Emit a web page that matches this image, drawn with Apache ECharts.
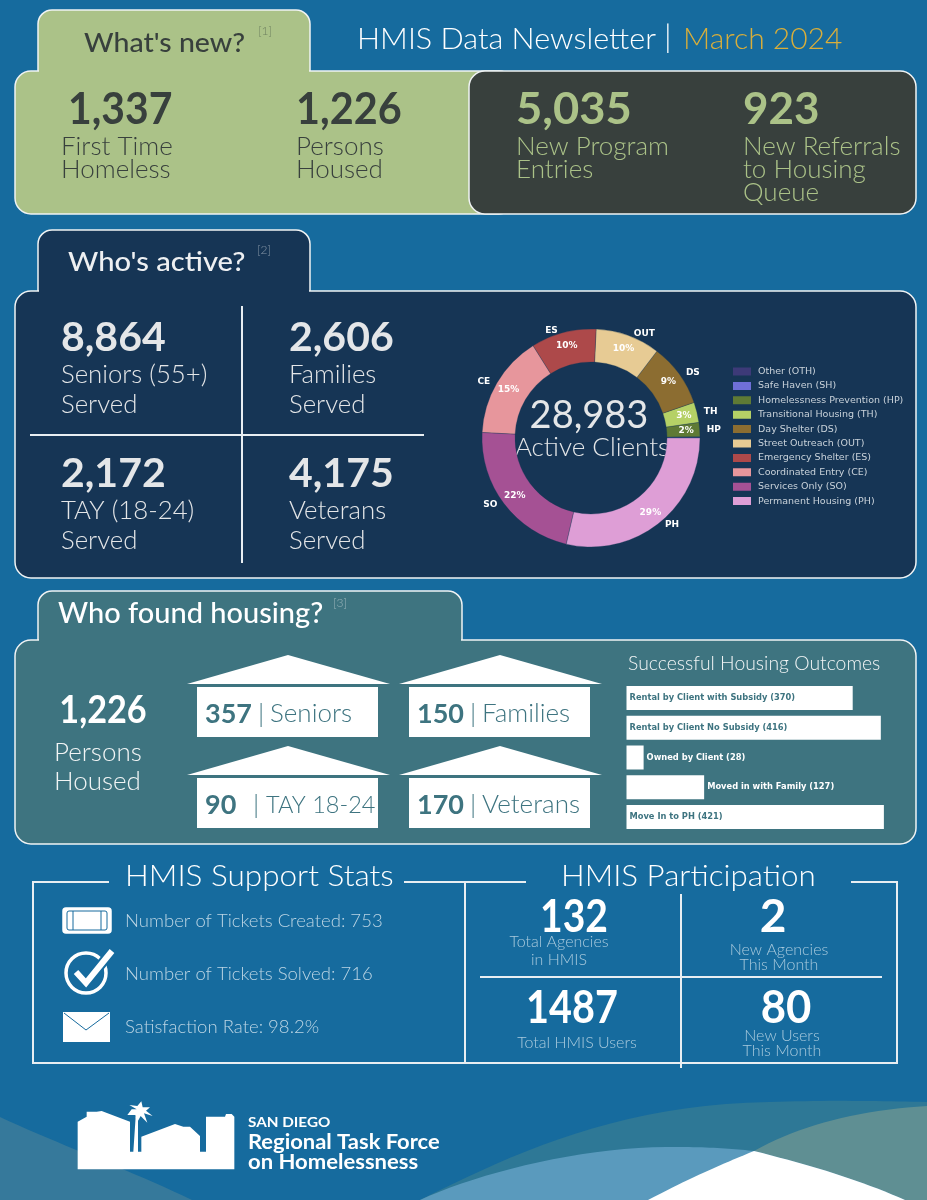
<!DOCTYPE html>
<html>
<head>
<meta charset="utf-8">
<title>HMIS Data Newsletter | March 2024</title>
<script src="https://cdn.jsdelivr.net/npm/echarts@6/dist/echarts.min.js"></script>
<style>
  html, body { margin: 0; padding: 0; background: #166b9e; }
  #chart { width: 927px; height: 1200px; }
</style>
</head>
<body>
<div id="chart"></div>
<script>
// program mix (share of active clients)
const programNames = ["Other (OTH)", "Safe Haven (SH)", "Homelessness Prevention (HP)", "Transitional Housing (TH)", "Day Shelter (DS)", "Street Outreach (OUT)", "Emergency Shelter (ES)", "Coordinated Entry (CE)", "Services Only (SO)", "Permanent Housing (PH)"];
const programCodes = ["", "", "HP", "TH", "DS", "OUT", "ES", "CE", "SO", "PH"];
const programShares = [0.1, 0.1, 2.1, 3.0, 9.4, 9.6, 9.7, 15.3, 22.2, 28.7];
const programColors = ["#3d3a78", "#6f6fd8", "#5f7a35", "#b5d166", "#8c6d31", "#e7cb94", "#ad494a", "#e7969c", "#a55194", "#de9ed6"];

// housing outcomes bars
const outcomeNames = ["Rental by Client with Subsidy", "Rental by Client No Subsidy", "Owned by Client", "Moved in with Family", "Move In to PH"];
const outcomeValues = [370, 416, 28, 127, 421];

// headline numbers
const newValues = ["1,337", "1,226", "5,035", "923"];
const newLabels = [["First Time", "Homeless"], ["Persons", "Housed"], ["New Program", "Entries"], ["New Referrals", "to Housing", "Queue"]];
const activeValues = ["8,864", "2,606", "2,172", "4,175"];
const activeLabels = [["Seniors (55+)", "Served"], ["Families", "Served"], ["TAY (18-24)", "Served"], ["Veterans", "Served"]];
const housedValues = ["357", "150", "90", "170"];
const housedLabels = ["Seniors", "Families", "TAY 18-24", "Veterans"];
const supportLines = ["Number of Tickets Created: 753", "Number of Tickets Solved: 716", "Satisfaction Rate: 98.2%"];
const partValues = ["132", "2", "1487", "80"];
const partLabels = [["Total Agencies", "in HMIS"], ["New Agencies", "This Month"], ["Total HMIS Users"], ["New Users", "This Month"]];

const BG = "#166b9e", GREEN = "#abc288", SLATE = "#38403d", NAVY = "#163555", TEAL = "#3e7480";
const FONT = "Lato", LINE = "#e8eef2";

const g = [];
// sx squeezes or stretches the glyphs, Lato runs a bit off the original's widths
function txt(x, y, text, size, fill, weight, align, sx) {
  g.push({ type: "text", x, y: y + 1, scaleX: sx || 1, style: { text, fill, font: `${weight || 300} ${size}px ${FONT}`, textAlign: align || "left", textVerticalAlign: "middle" } });
}
function poly(points, fill) { g.push({ type: "polygon", shape: { points }, style: { fill } }); }
function seg(x1, y1, x2, y2, stroke, lineWidth) {
  g.push({ type: "line", shape: { x1, y1, x2, y2 }, style: { stroke: stroke || LINE, lineWidth: lineWidth || 2 } });
}
function box(x, y, w, h, r, fill, stroke) {
  g.push({ type: "rect", shape: { x, y, width: w, height: h, r }, style: { fill, stroke: stroke || "#f0f3f4", lineWidth: 1.5 } });
}
// decorative wave: start point, then cubic segments [c1x,c1y,c2x,c2y,x,y], flattened to a polygon
function wave(start, curves, fill) {
  const pts = [start];
  let p = start;
  curves.forEach((c) => {
    for (let t = 0.05; t <= 1.001; t += 0.05) {
      const u = 1 - t;
      pts.push([
        u * u * u * p[0] + 3 * u * u * t * c[0] + 3 * u * t * t * c[2] + t * t * t * c[4],
        u * u * u * p[1] + 3 * u * u * t * c[1] + 3 * u * t * t * c[3] + t * t * t * c[5],
      ]);
    }
    p = [c[4], c[5]];
  });
  return poly(pts, fill);
}

// bottom waves
wave([0, 1117], [[60, 1145, 130, 1170, 192, 1200], [130, 1200, 60, 1200, 0, 1200]], "#36799b");
wave([420, 1200], [[520, 1150, 620, 1105, 769, 1102], [830, 1100, 880, 1101, 927, 1102], [927, 1130, 927, 1170, 927, 1200]], "#2e7896");
wave([648, 1200], [[690, 1178, 720, 1165, 754, 1151], [800, 1125, 860, 1110, 927, 1106], [927, 1130, 927, 1170, 927, 1200]], "#5f8f93");
wave([420, 1200], [[480, 1172, 590, 1145, 680, 1147], [710, 1147, 735, 1149, 754, 1151], [810, 1165, 860, 1180, 905, 1200]], "#5a9abd");
wave([648, 1200], [[690, 1178, 720, 1165, 754, 1151], [810, 1165, 860, 1180, 905, 1200]], "#ffffff");

// what's new
box(38, 10, 272, 70, [14, 14, 0, 0], GREEN);
box(15, 71, 500, 143, 16, GREEN);
g.push({ type: "rect", shape: { x: 39, y: 65, width: 270, height: 10 }, style: { fill: GREEN } });
box(469, 71, 447, 143, 16, SLATE);
txt(84, 42, "What's new?", 27, SLATE, 500, "left", 1.055);
txt(258, 30, "[1]", 12, "#6f8260", 300);
txt(357, 38, "HMIS Data Newsletter", 30, "#ffffff", 300, "left", 1.02);
txt(664, 36, "|", 32, "#ffffff");
txt(683, 38, "March 2024", 30, "#d9ae3a");
const newSquash = [0.93, 0.94, 1.03, 1];
[68, 296, 516, 743].forEach((x, i) => {
  const col = i < 2 ? SLATE : GREEN;
  txt(x, 109, newValues[i], 44, col, 700, "left", newSquash[i]);
  newLabels[i].forEach((t, j) => txt(x - (i == 0 ? 7 : 0), 146 + j * 23, t, 25, col, 300, "left", 1.04));
});

// who's active
box(38, 230, 272, 70, [14, 14, 0, 0], NAVY);
box(15, 291, 901, 287, 16, NAVY);
g.push({ type: "rect", shape: { x: 39, y: 285, width: 270, height: 10 }, style: { fill: NAVY } });
txt(68, 261, "Who's active?", 27, "#eef0f2", 500, "left", 1.08);
txt(257, 249, "[2]", 12, "#8797a8", 300);
seg(242, 306, 242, 563);
seg(30, 435, 424, 435);
[[61, 337], [289, 337], [61, 473], [289, 473]].forEach(([x, y], i) => {
  txt(x, y, activeValues[i], 41, "#e4e6e8", 700);
  activeLabels[i].forEach((t, j) => txt(x, y + 37 + j * 30, t, 25, "#e4e6e8", 300, "left", 1.03));
});
txt(589, 415, "28,983", 38, "#e4e6e8", 400, "center");
txt(592, 447, "Active Clients", 26, "#e4e6e8", 300, "center");

// who found housing
box(38, 591, 424, 60, [14, 14, 0, 0], TEAL);
box(15, 640, 901, 204, 16, TEAL);
g.push({ type: "rect", shape: { x: 39, y: 635, width: 422, height: 10 }, style: { fill: TEAL } });
txt(58, 613, "Who found housing?", 28, "#ffffff", 500, "left", 1.035);
txt(333, 602, "[3]", 12, "#9db6bc", 300);
txt(103, 710, "1,226", 38, "#ffffff", 700, "center", 0.9);
txt(54, 752, "Persons", 25, "#f2f5f5", 300, "left", 1.04);
txt(54, 781, "Housed", 25, "#f2f5f5", 300, "left", 1.04);
[[187, 655], [399, 655], [187, 746], [399, 746]].forEach(([x, y], i) => {
  poly([[x + 101, y], [x + 203, y + 29], [x, y + 29]], "#ffffff");
  g.push({ type: "rect", shape: { x: x + 10, y: y + 32, width: 181, height: 50 }, style: { fill: "#ffffff" } });
  txt(x + 18, y + 58, housedValues[i], 27, TEAL, 700);
  txt(x + (i == 2 ? 66 : 71), y + 58, "|", 26, TEAL);
  txt(x + (i == 2 ? 79 : 83), y + 58, housedLabels[i], i == 2 ? 23.5 : 26, TEAL);
});
txt(628, 663, "Successful Housing Outcomes", 19, "#f2f5f5", 300, "left", 1.02);

// support stats and participation frame
seg(33, 882, 109, 882); seg(404, 882, 526, 882); seg(851, 882, 897, 882);
seg(33, 881, 33, 1064); seg(897, 881, 897, 1064); seg(32, 1063, 898, 1063);
seg(465, 882, 465, 1063); seg(681, 894, 681, 1068); seg(480, 977, 882, 977);
txt(125, 875, "HMIS Support Stats", 30, "#ffffff", 300, "left", 1.05);
txt(561, 875, "HMIS Participation", 30, "#ffffff", 300, "left", 1.045);
[920, 973, 1026].forEach((y, i) => txt(125, y, supportLines[i], 18, "#bcd5e4", 300, "left", 1.03));
const partSquash = [0.85, 1, 0.86, 0.95];
[[574, 916], [773, 916], [572, 1007], [786, 1007]].forEach(([x, y], i) => txt(x, y, partValues[i], 46, "#ffffff", 700, "center", partSquash[i]));
[[559, 941, 18], [779, 949, 15], [577, 1042], [782, 1035, 15]].forEach(([x, y, gap], i) => {
  partLabels[i].forEach((t, j) => txt(x, y + j * (gap || 0), t, 16, "#a9cadd", 300, "center"));
});

// ticket icon
box(63, 908, 48, 25, 3, "#ffffff", "#ffffff");
g.push({ type: "rect", shape: { x: 67, y: 911, width: 40, height: 19, r: 2 }, style: { fill: "none", stroke: BG, lineWidth: 1 } });
seg(73, 911, 73, 930, BG, 1); seg(101, 911, 101, 930, BG, 1);
// check icon
g.push({ type: "circle", shape: { cx: 86, cy: 973, r: 20 }, style: { fill: "none", stroke: "#ffffff", lineWidth: 3.5 } });
g.push({ type: "polyline", shape: { points: [[76, 972], [86, 983], [112, 951]] }, style: { stroke: BG, lineWidth: 10, fill: "none" } });
g.push({ type: "polyline", shape: { points: [[76, 972], [86, 983], [112, 951]] }, style: { stroke: "#ffffff", lineWidth: 6, fill: "none" } });
// envelope icon
g.push({ type: "rect", shape: { x: 63, y: 1012, width: 47, height: 30 }, style: { fill: "#ffffff" } });
g.push({ type: "polyline", shape: { points: [[64, 1013], [86, 1030], [109, 1013]] }, style: { stroke: BG, lineWidth: 1, fill: "none" } });

// logo, traced in zoom crop coordinates
const lz = (p) => p.map(([x, y]) => [20 + x / 3, 860 + y / 3]);
poly(lz([[173, 785], [200, 770], [200, 755], [230, 755], [245, 753], [330, 785], [330, 875], [340, 875], [347, 770], [354, 770], [354, 875], [364, 875], [364, 830], [465, 792], [490, 800], [510, 800], [540, 828], [540, 875], [558, 875], [558, 770], [615, 770], [618, 762], [635, 762], [643, 770], [643, 928], [173, 928]]), "#ffffff");
poly(lz([[322, 765], [335, 748], [350, 748], [328, 735], [352, 738], [364, 724], [368, 742], [390, 742], [378, 752], [398, 768], [372, 760], [382, 788], [362, 768], [350, 790], [346, 765]]), "#ffffff");
txt(248, 1121, "SAN DIEGO", 14, "#ffffff", 700, "left", 1.09);
txt(248, 1141, "Regional Task Force", 20.5, "#ffffff", 700, "left", 1.07);
txt(248, 1161, "on Homelessness", 20.5, "#ffffff", 700, "left", 1.075);

const pieData = programNames.map((name, i) => ({ name, value: programShares[i], itemStyle: { color: programColors[i] } }));
const chart = echarts.init(document.getElementById("chart"), null, { renderer: "canvas" });
chart.setOption({
  animation: false,
  backgroundColor: BG,
  graphic: { elements: g },
  legend: {
    orient: "vertical", left: 726, top: 360.5, itemWidth: 20, itemHeight: 10, itemGap: 2.4,
    icon: "rect", selectedMode: false, data: programNames,
    textStyle: { color: "#c9d2da", fontSize: 9.5, fontFamily: "DejaVu Sans", padding: [0, 0, 0, 1] },
  },
  grid: { left: 626.5, top: 683, width: 269, height: 149 },
  xAxis: { type: "value", min: 0, max: 440, show: false },
  yAxis: { type: "category", inverse: true, data: outcomeNames, show: false },
  series: [
    {
      type: "pie", center: [591, 438], radius: [76, 109], startAngle: 0, clockwise: false,
      avoidLabelOverlap: false, silent: true, data: pieData,
      itemStyle: { borderColor: NAVY, borderWidth: 0.3 },
      label: {
        position: "outside", color: "#ffffff", fontFamily: "DejaVu Sans", fontWeight: "bold", fontSize: 9,
        formatter: (p) => programCodes[p.dataIndex],
      },
      labelLine: { show: false, length: 2, length2: 0 },
    },
    {
      type: "pie", center: [591, 438], radius: [76, 109], startAngle: 0, clockwise: false,
      avoidLabelOverlap: false, silent: true, data: pieData.map((d) => ({ name: d.name, value: d.value, itemStyle: { color: "transparent", borderWidth: 0 } })),
      label: {
        position: "inside", color: "#ffffff", fontFamily: "DejaVu Sans", fontWeight: "bold", fontSize: 9,
        formatter: (p) => (p.percent < 1 ? "" : Math.round(p.percent) + "%"),
      },
      labelLine: { show: false },
    },
    {
      type: "bar", barWidth: 24, silent: true,
      itemStyle: { color: "#ffffff" },
      data: outcomeValues.map((v, i) => ({
        value: v,
        label: {
          show: true,
          position: v < 200 ? "right" : "insideLeft",
          distance: 3,
          color: v < 200 ? "#ffffff" : TEAL,
          fontFamily: "DejaVu Sans", fontWeight: "bold", fontSize: 8.3,
          formatter: `${outcomeNames[i]} (${v})`,
        },
      })),
    },
  ],
});
</script>
</body>
</html>
